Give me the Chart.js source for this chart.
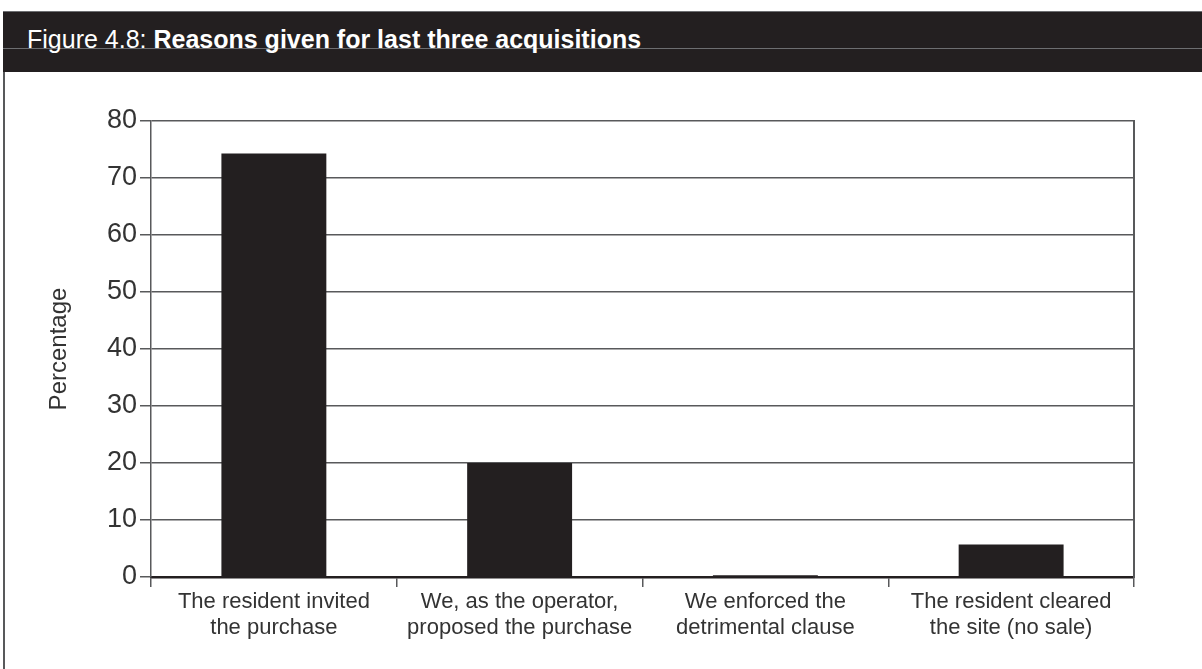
<!DOCTYPE html>
<html lang="en">
<head>
    <meta charset="UTF-8">
    <title>Figure 4.8: Reasons given for last three acquisitions</title>
    <script src="https://cdn.jsdelivr.net/npm/chart.js"></script>
    <style>
      body {
        margin: 0;
        background: #fff;
        font-family: "Liberation Sans", Arial, sans-serif;
      }
      #page {
        position: relative;
        width: 1202px;
        height: 669px;
        overflow: hidden;
      }
      #frame {
        position: absolute;
        left: 3px;
        top: 11px;
        width: 2px;
        height: 660px;
        background: #58595b;
      }
      #header {
        position: absolute;
        left: 3px;
        top: 11px;
        width: 1199px;
        height: 61px;
        background: #231f20;
        border-top: 1px solid #6d6e71;
        box-sizing: border-box;
      }
      #header .rule {
        position: absolute;
        left: 0;
        right: 0;
        top: 36px;
        height: 1px;
        background: #6d6e71;
      }
      #header h1 {
        position: absolute;
        left: 24px;
        top: 15px;
        margin: 0;
        font-size: 25px;
        line-height: 25px;
        font-weight: normal;
        color: #fff;
        white-space: nowrap;
      }
      #myChart {
        position: absolute;
        left: 0;
        top: 0;
      }
    </style>
</head>
<body>
<div id="page">
    <canvas id="myChart" width="1202" height="669"></canvas>
    <div id="frame"></div>
    <div id="header">
        <div class="rule"></div>
        <h1>Figure 4.8: <b>Reasons given for last three acquisitions</b></h1>
    </div>
</div>

<script>
    const reasons = [
        ['The resident invited', 'the purchase'],
        ['We, as the operator,', 'proposed the purchase'],
        ['We enforced the', 'detrimental clause'],
        ['The resident cleared', 'the site (no sale)']
    ];
    const percentages = [74.3, 20, 0.3, 5.7];
    const yMin = 0;
    const yMax = 80;
    const yStep = 10;

    const fontFamily = '"Liberation Sans", Arial, sans-serif';
    const lineGrey = '#58595b';
    const ink = '#231f20';

    const ctx = document.getElementById('myChart').getContext('2d');
    const myChart = new Chart(ctx, {
        type: 'bar',
        data: {
            labels: reasons,
            datasets: [{
                label: 'Percentage',
                data: percentages,
                backgroundColor: ink,
                borderWidth: 0,
                barPercentage: 0.427,
                categoryPercentage: 1
            }]
        },
        options: {
            responsive: false,
            animation: false,
            layout: {
                padding: { top: 121, right: 68, bottom: 0, left: 0 }
            },
            plugins: {
                legend: { display: false },
                tooltip: { enabled: false }
            },
            scales: {
                x: {
                    offset: true,
                    grid: {
                        offset: true,
                        drawOnChartArea: false,
                        drawTicks: true,
                        tickLength: 10,
                        color: lineGrey,
                        lineWidth: 1.5
                    },
                    border: { display: true, color: ink, width: 2.5 },
                    ticks: {
                        autoSkip: false,
                        maxRotation: 0,
                        padding: 2,
                        color: '#333',
                        font: { family: fontFamily, size: 22, lineHeight: 1.18 }
                    },
                    afterFit: scale => { scale.height = 92; }
                },
                y: {
                    min: yMin,
                    max: yMax,
                    ticks: {
                        stepSize: yStep,
                        padding: 3,
                        color: '#333',
                        font: { family: fontFamily, size: 27 }
                    },
                    grid: {
                        color: lineGrey,
                        lineWidth: 1.5,
                        tickLength: 11
                    },
                    border: { color: lineGrey, width: 1.5 },
                    title: {
                        display: true,
                        text: 'Percentage',
                        color: '#333',
                        padding: { top: 45, bottom: 0 },
                        font: { family: fontFamily, size: 24 }
                    },
                    afterFit: scale => { scale.width = 151; }
                },
                // right-hand edge of the plot box
                yRight: {
                    position: 'right',
                    ticks: { display: false },
                    grid: { drawOnChartArea: false, drawTicks: false },
                    border: { color: lineGrey, width: 2 },
                    afterFit: scale => { scale.width = 0; }
                }
            }
        }
    });
</script>
</body>
</html>
